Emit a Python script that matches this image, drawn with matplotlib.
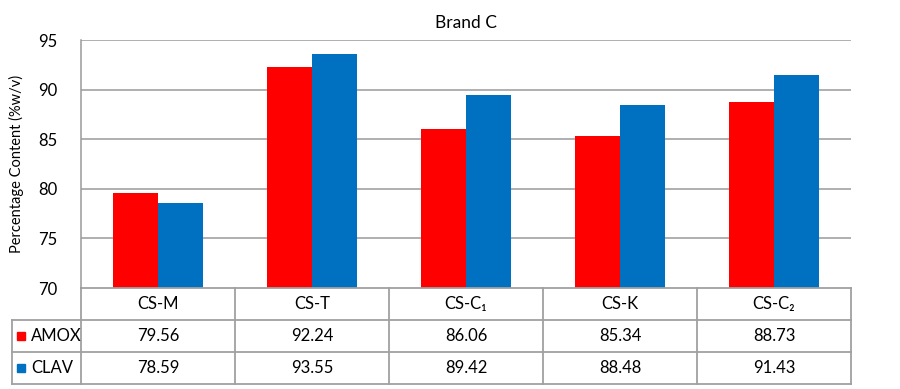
import matplotlib
matplotlib.use("Agg")
import matplotlib.pyplot as plt
from matplotlib.patches import Rectangle
import matplotlib.transforms as mtransforms

plt.rcParams['font.family'] = ['Lato', 'DejaVu Sans']

categories = ['CS-M', 'CS-T', 'CS-C\u2081', 'CS-K', 'CS-C\u2082']
series_names = ['AMOX', 'CLAV']
amox = [79.56, 92.24, 86.06, 85.34, 88.73]
clav = [78.59, 93.55, 89.42, 88.48, 91.43]
colors = ['#FF0000', '#0070C0']
title = 'Brand C'
ylabel = 'Percentage Content (%w/v)'

fig = plt.figure(figsize=(9, 3.89), dpi=100)
ax = fig.add_axes([81/900, 1-288/389, (851-81)/900, (288-40)/389])

n = len(categories)
x = list(range(n))
w = 0.292
grid_c = '#9A9A9A'
fs = 12
ax.set_ylim(70, 95)
ax.set_xlim(-0.5, n-0.5)
ax.set_yticks([70, 75, 80, 85, 90, 95])
for yv in [75, 80, 85, 90, 95]:
    ax.axhline(yv, color=grid_c, lw=1.1, zorder=0)
ax.bar([i - w/2 for i in x], [a - 70 for a in amox], bottom=70, width=w, color=colors[0], zorder=2)
ax.bar([i + w/2 for i in x], [c - 70 for c in clav], bottom=70, width=w, color=colors[1], zorder=2)

for s in ['top', 'right', 'bottom']:
    ax.spines[s].set_visible(False)
ax.spines['left'].set_color(grid_c)
ax.spines['left'].set_linewidth(1.1)
ax.set_xticks([])
ax.tick_params(axis='y', length=0, labelsize=fs, pad=17)
ax.set_title(title, fontsize=12.5, pad=9)
ax.set_ylabel(ylabel, fontsize=10.5)
ax.yaxis.set_label_coords(-57/770, 0.5)

# data table
trans = mtransforms.blended_transform_factory(ax.transData, ax.transAxes)
rh = 32/248
lc = '#A0A0A0'
lw = 1.3
for k in range(4):
    yv = -k*rh
    ax.plot([-0.5, n-0.5], [yv, yv], transform=trans, color=lc, lw=lw, clip_on=False)
for i in range(n+1):
    ax.plot([i-0.5, i-0.5], [0, -3*rh], transform=trans, color=lc, lw=lw, clip_on=False)
# left label column
lx = -0.5 - (81-12)*n/770
for k in [1, 2, 3]:
    ax.plot([lx, -0.5], [-k*rh, -k*rh], transform=trans, color=lc, lw=lw, clip_on=False)
ax.plot([lx, lx], [-rh, -3*rh], transform=trans, color=lc, lw=lw, clip_on=False)

for i, c in enumerate(categories):
    ax.text(i, -0.5*rh, c, transform=trans, ha='center', va='center', fontsize=fs)
for r, (vals, name, col) in enumerate(zip([amox, clav], series_names, colors)):
    yc = -(1.5 + r)*rh
    for i, v in enumerate(vals):
        ax.text(i, yc, f'{v:.2f}', transform=trans, ha='center', va='center', fontsize=fs)
    sq_x = lx + 5*n/770
    ax.add_patch(Rectangle((sq_x, yc - 4/248), 8*n/770, 8/248, transform=trans,
                           color=col, clip_on=False))
    ax.text(lx + 19*n/770, yc, name, transform=trans, ha='left', va='center', fontsize=fs)

fig.savefig('out.png', dpi=100)
